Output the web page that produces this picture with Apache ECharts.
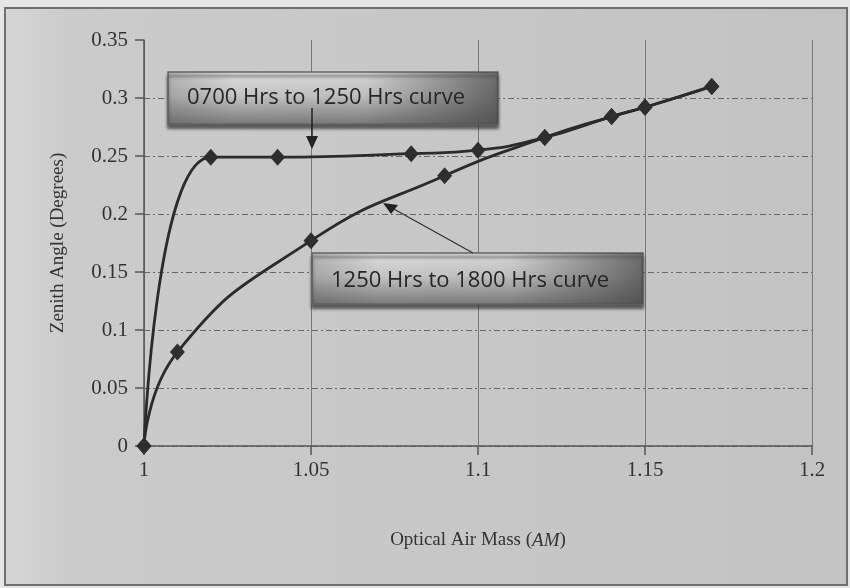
<!DOCTYPE html>
<html>
<head>
<meta charset="utf-8">
<script src="https://cdn.jsdelivr.net/npm/echarts@6/dist/echarts.min.js"></script>
<style>
  html, body { margin: 0; padding: 0; background: #e6e6e6; }
  #main { width: 850px; height: 588px; }
</style>
</head>
<body>
<div id="main"></div>
<script>
// 0700 Hrs to 1250 Hrs
var morningAM = [1, 1.02, 1.04, 1.08, 1.1, 1.12, 1.14, 1.15, 1.17];
var morningZenith = [0, 0.249, 0.249, 0.252, 0.255, 0.266, 0.284, 0.292, 0.31];
// 1250 Hrs to 1800 Hrs
var eveningAM = [1, 1.01, 1.05, 1.09, 1.12, 1.14, 1.15, 1.17];
var eveningZenith = [0, 0.081, 0.177, 0.233, 0.266, 0.284, 0.292, 0.31];

var xTicks = ['1', '1.05', '1.1', '1.15', '1.2'];
var yTicks = ['0', '0.05', '0.1', '0.15', '0.2', '0.25', '0.3', '0.35'];

function pairs(xs, ys) {
    var out = [];
    for (var i = 0; i < xs.length; i++) {
        out.push([xs[i], ys[i]]);
    }
    return out;
}

var serif = '"Liberation Serif", "DejaVu Serif", serif';
var sans = '"Open Sans", "Liberation Sans", sans-serif';
var lineColor = '#2b2b2b';

// 标注框: 底色(上浅下深) + 右侧加深
function boxLayers(x, y, w, h) {
    return [
        {
            type: 'rect', z: 50,
            shape: {x: x, y: y, width: w, height: h},
            style: {
                fill: new echarts.graphic.LinearGradient(0, 0, 0, 1, [
                    {offset: 0, color: '#dedede'},
                    {offset: 0.45, color: '#c4c4c4'},
                    {offset: 1, color: '#7a7a7a'}
                ]),
                stroke: '#666', lineWidth: 1.5,
                shadowBlur: 3, shadowOffsetY: 4, shadowColor: 'rgba(40,40,40,0.7)'
            }
        },
        {
            type: 'rect', z: 50,
            shape: {x: x, y: y, width: w, height: h},
            style: {
                fill: new echarts.graphic.LinearGradient(0, 0, 1, 0, [
                    {offset: 0, color: 'rgba(70,70,70,0.25)'},
                    {offset: 0.2, color: 'rgba(70,70,70,0)'},
                    {offset: 0.6, color: 'rgba(70,70,70,0.05)'},
                    {offset: 1, color: 'rgba(70,70,70,0.75)'}
                ])
            }
        }
    ];
}

function seriesOf(name, xs, ys) {
    return {
        name: name,
        type: 'line',
        smooth: 0.5,
        data: pairs(xs, ys),
        symbol: 'diamond',
        symbolSize: [15, 17],
        itemStyle: {color: '#2e2e2e'},
        lineStyle: {color: lineColor, width: 2.8},
        z: 3
    };
}

var chart = echarts.init(document.getElementById('main'));

var graphics = [
    // 外框
    {
        type: 'rect', z: -10, silent: true,
        shape: {x: 5, y: 8, width: 842, height: 577},
        style: {
            fill: new echarts.graphic.LinearGradient(0, 0, 1, 0, [
                {offset: 0, color: '#d6d6d6'},
                {offset: 0.08, color: '#cbcbcb'},
                {offset: 1, color: '#c3c3c3'}
            ]),
            stroke: '#6f6f6f', lineWidth: 2
        }
    }
];
graphics = graphics.concat(boxLayers(168, 72, 330, 52));
graphics = graphics.concat(boxLayers(312, 253, 331, 51));
graphics = graphics.concat([
    {
        type: 'text', z: 51,
        style: {
            x: 187, y: 98, text: '0700 Hrs to 1250 Hrs curve',
            font: '22px ' + sans, fill: '#262626', verticalAlign: 'middle'
        }
    },
    {
        type: 'line', z: 52,
        shape: {x1: 312, y1: 108, x2: 312, y2: 138},
        style: {stroke: '#222', lineWidth: 1.5}
    },
    {
        type: 'polygon', z: 52,
        shape: {points: [[306, 136], [318, 136], [312, 149]]},
        style: {fill: '#222'}
    },
    {
        type: 'text', z: 51,
        style: {
            x: 331, y: 281, text: '1250 Hrs to 1800 Hrs curve',
            font: '22px ' + sans, fill: '#262626', verticalAlign: 'middle'
        }
    },
    {
        type: 'line', z: 52,
        shape: {x1: 473, y1: 253, x2: 392, y2: 208},
        style: {stroke: '#333', lineWidth: 1.3}
    },
    {
        type: 'polygon', z: 52,
        shape: {points: [[383, 203], [398, 205], [391, 214]]},
        style: {fill: '#222'}
    }
]);

var option = {
    backgroundColor: '#e6e6e6',
    animation: false,
    grid: {left: 144, right: 38, top: 40, bottom: 142, containLabel: false},
    xAxis: {
        type: 'value',
        min: 1,
        max: 1.2,
        interval: 0.05,
        name: 'Optical Air Mass ({i|AM})',
        nameLocation: 'middle',
        nameGap: 85,
        nameTextStyle: {
            fontFamily: serif, fontSize: 19, color: '#333',
            rich: {i: {fontFamily: serif, fontSize: 19, fontStyle: 'italic', color: '#333'}}
        },
        axisLine: {lineStyle: {color: '#555', width: 1.5}},
        axisTick: {show: true, length: 9, lineStyle: {color: '#555', width: 1.5}},
        axisLabel: {
            fontFamily: serif, fontSize: 21, color: '#333', margin: 14,
            formatter: function (v) {
                return xTicks[Math.round((v - 1) / 0.05)];
            }
        },
        splitLine: {show: true, lineStyle: {color: '#777', width: 1, type: 'solid'}}
    },
    yAxis: {
        type: 'value',
        min: 0,
        max: 0.35,
        interval: 0.05,
        name: 'Zenith Angle (Degrees)',
        nameLocation: 'middle',
        nameGap: 76,
        nameRotate: 90,
        nameTextStyle: {fontFamily: serif, fontSize: 19, color: '#333'},
        axisLine: {show: true, lineStyle: {color: '#555', width: 1.5}},
        axisTick: {show: true, length: 9, lineStyle: {color: '#555', width: 1.5}},
        axisLabel: {
            fontFamily: serif, fontSize: 21, color: '#333', margin: 16,
            formatter: function (v) {
                return yTicks[Math.round(v / 0.05)];
            }
        },
        splitLine: {
            show: true,
            showMaxLine: false,
            lineStyle: {color: '#666', width: 1.2, type: [6, 3, 2, 3]}
        }
    },
    series: [
        seriesOf('0700 Hrs to 1250 Hrs curve', morningAM, morningZenith),
        seriesOf('1250 Hrs to 1800 Hrs curve', eveningAM, eveningZenith)
    ],
    graphic: graphics
};

chart.setOption(option);
</script>
</body>
</html>
